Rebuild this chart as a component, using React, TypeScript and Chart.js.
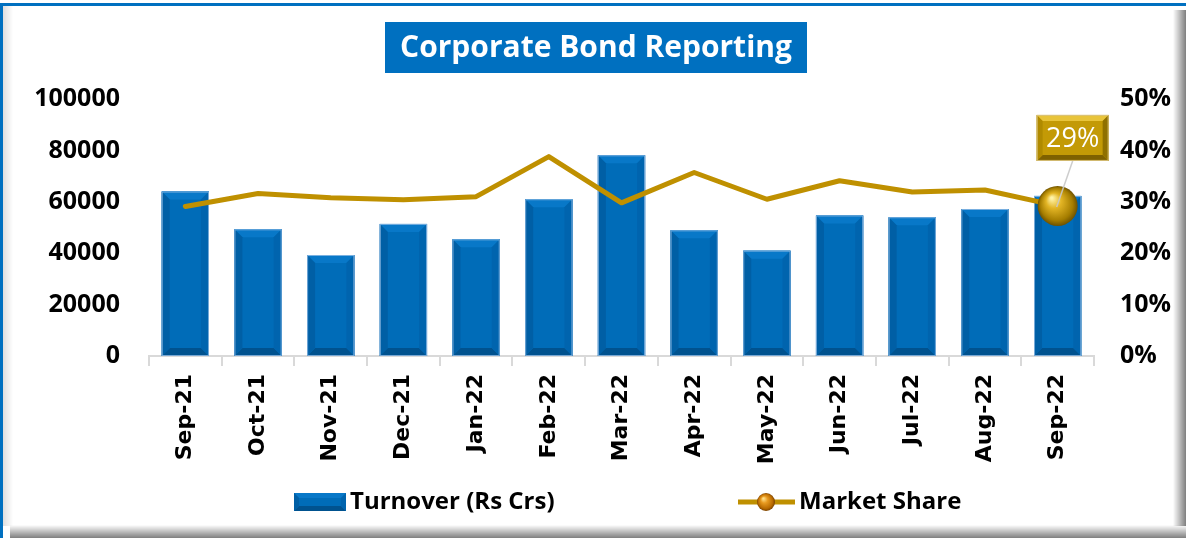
import React, { useEffect, useRef } from "react";
import { Chart, registerables } from "chart.js";

Chart.register(...registerables);

const title = "Corporate Bond Reporting";
const categories = ["Sep-21", "Oct-21", "Nov-21", "Dec-21", "Jan-22", "Feb-22", "Mar-22", "Apr-22", "May-22", "Jun-22", "Jul-22", "Aug-22", "Sep-22"];
const turnover = [64000, 49300, 39300, 51400, 45400, 61000, 78100, 48900, 41000, 54700, 54000, 57200, 62300];
const marketShare = [29.1, 31.6, 30.8, 30.4, 31.0, 38.8, 29.8, 35.7, 30.5, 34.1, 31.9, 32.3, 29.2];
const leftTicks = [0, 20000, 40000, 60000, 80000, 100000];
const rightTicks = [0, 10, 20, 30, 40, 50];
const seriesNames = ["Turnover (Rs Crs)", "Market Share"];

const BLUE = "#006CB8";
const GOLD = "#BF9000";

function bevelRect(ctx: CanvasRenderingContext2D, l: number, t: number, r: number, b: number, bv: number, face: string, top: string, bottom: string, left: string, right: string) {
  ctx.fillStyle = face;
  ctx.fillRect(l, t, r - l, b - t);
  const poly = (pts: number[][], c: string) => {
    ctx.beginPath();
    ctx.moveTo(pts[0][0], pts[0][1]);
    for (let i = 1; i < pts.length; i++) ctx.lineTo(pts[i][0], pts[i][1]);
    ctx.closePath();
    ctx.fillStyle = c;
    ctx.fill();
  };
  poly([[l, t], [r, t], [r - bv, t + bv], [l + bv, t + bv]], top);
  poly([[l, b], [r, b], [r - bv, b - bv], [l + bv, b - bv]], bottom);
  poly([[l, t], [l + bv, t + bv], [l + bv, b - bv], [l, b]], left);
  poly([[r, t], [r - bv, t + bv], [r - bv, b - bv], [r, b]], right);
}

function sphere(ctx: CanvasRenderingContext2D, x: number, y: number, r: number, c0: string, c1: string, c2: string, c3: string) {
  const g = ctx.createRadialGradient(x - r * 0.3, y - r * 0.4, r * 0.05, x, y, r);
  g.addColorStop(0, c0);
  g.addColorStop(0.35, c1);
  g.addColorStop(0.8, c2);
  g.addColorStop(1, c3);
  ctx.beginPath();
  ctx.arc(x, y, r, 0, Math.PI * 2);
  ctx.fillStyle = g;
  ctx.fill();
}

const decorPlugin = {
  id: "decor",
  afterDatasetDraw(chart: any, args: any) {
    const meta = args.meta;
    if (meta.type !== "bar") return;
    const ctx = chart.ctx as CanvasRenderingContext2D;
    ctx.save();
    meta.data.forEach((el: any) => {
      const p = el.getProps(["x", "y", "base", "width"], true);
      const l = p.x - p.width / 2;
      const r = p.x + p.width / 2;
      bevelRect(ctx, l, p.y, r, p.base, 8, BLUE, "#0878C8", "#00528F", "#005FA5", "#0064AE");
      ctx.strokeStyle = "rgba(150,190,230,0.8)";
      ctx.lineWidth = 1;
      ctx.strokeRect(l + 0.5, p.y + 0.5, p.width - 1, p.base - p.y - 1);
    });
    ctx.restore();
  },
  afterDatasetsDraw(chart: any) {
    const ctx = chart.ctx as CanvasRenderingContext2D;
    const lineMeta = chart.getDatasetMeta(1);
    const last = lineMeta.data[lineMeta.data.length - 1];
    const px = last.x;
    const py = last.y;
    ctx.save();
    const bx = px + 15, by = py - 68, bw = 72, bh = 46;
    sphere(ctx, px, py, 20, "#FFF3A8", "#E2B424", "#A57D00", "#6E5200");
    ctx.beginPath();
    ctx.moveTo(px - 1, py + 1);
    ctx.lineTo(bx, by + bh / 2);
    ctx.strokeStyle = "rgba(200,200,200,0.9)";
    ctx.lineWidth = 1.5;
    ctx.stroke();
    bevelRect(ctx, bx - bw / 2, by - bh / 2, bx + bw / 2, by + bh / 2, 6, "#C39A06", "#E8C43A", "#7E6100", "#B08A00", "#8F7000");
    ctx.strokeStyle = "#D9C27A";
    ctx.lineWidth = 1;
    ctx.strokeRect(bx - bw / 2 + 0.5, by - bh / 2 + 0.5, bw - 1, bh - 1);
    ctx.fillStyle = "#FFFFFF";
    ctx.font = "27px 'Open Sans'";
    ctx.textAlign = "center";
    ctx.textBaseline = "middle";
    ctx.fillText(Math.round(marketShare[marketShare.length - 1]) + "%", bx, by + 1);
    ctx.restore();
  },
  afterDraw(chart: any) {
    const ctx = chart.ctx as CanvasRenderingContext2D;
    ctx.save();
    ctx.fillStyle = "#0070C0";
    ctx.fillRect(385, 22, 422, 51);
    ctx.fillStyle = "#FFFFFF";
    ctx.font = "bold 30px 'Open Sans'";
    ctx.textAlign = "center";
    ctx.textBaseline = "middle";
    ctx.fillText(title, 596, 48);
    bevelRect(ctx, 294, 493, 346, 511, 5, BLUE, "#0878C8", "#00528F", "#005FA5", "#0064AE");
    ctx.fillStyle = "#000";
    ctx.font = "bold 24px 'Open Sans'";
    ctx.textAlign = "left";
    ctx.fillText(seriesNames[0], 350, 502);
    ctx.strokeStyle = GOLD;
    ctx.lineWidth = 5;
    ctx.beginPath();
    ctx.moveTo(738, 502);
    ctx.lineTo(795, 502);
    ctx.stroke();
    sphere(ctx, 766, 502, 9, "#FFE08A", "#E89A20", "#B86A00", "#7A4200");
    ctx.fillStyle = "#000";
    ctx.fillText(seriesNames[1], 799, 502);
    ctx.restore();
  },
};

export default function App() {
  const ref = useRef<HTMLCanvasElement>(null);
  useEffect(() => {
    const chart = new Chart(ref.current as HTMLCanvasElement, {
      type: "bar",
      data: {
        labels: categories,
        datasets: [
          {
            type: "bar",
            label: seriesNames[0],
            data: turnover,
            backgroundColor: BLUE,
            yAxisID: "y",
            barPercentage: 0.65,
            categoryPercentage: 1,
            order: 2,
          } as any,
          {
            type: "line",
            label: seriesNames[1],
            data: marketShare,
            borderColor: GOLD,
            borderWidth: 5,
            pointRadius: 0,
            pointHoverRadius: 0,
            tension: 0,
            borderCapStyle: "round",
            borderJoinStyle: "round",
            yAxisID: "y1",
            order: 1,
          } as any,
        ],
      },
      options: {
        responsive: false,
        maintainAspectRatio: false,
        animation: false,
        events: [],
        layout: { padding: { top: 99, left: 0, right: 0, bottom: 0 } },
        plugins: { legend: { display: false }, tooltip: { enabled: false }, title: { display: false } },
        scales: {
          x: {
            offset: true,
            grid: { display: true, drawOnChartArea: false, drawTicks: true, tickLength: 10, color: "#D9D9D9", lineWidth: 2, offset: true },
            border: { display: true, color: "#D9D9D9", width: 2 },
            ticks: {
              minRotation: 90,
              maxRotation: 90,
              autoSkip: false,
              padding: 8,
              color: "#000",
              font: { family: "'DejaVu Sans'", weight: "bold", size: 22 },
            },
            afterFit: (s: any) => {
              s.height = 182;
            },
          },
          y: {
            position: "left",
            min: 0,
            max: 100000,
            grid: { display: false, drawTicks: false },
            border: { display: false },
            afterBuildTicks: (s: any) => {
              s.ticks = leftTicks.map((v) => ({ value: v }));
            },
            ticks: {
              padding: 29,
              color: "#000",
              font: { family: "'Open Sans'", weight: "bold", size: 25 },
              callback: (v: any) => String(v),
            },
            afterFit: (s: any) => {
              s.width = 149;
            },
          },
          y1: {
            position: "right",
            min: 0,
            max: 50,
            grid: { display: false, drawTicks: false },
            border: { display: false },
            afterBuildTicks: (s: any) => {
              s.ticks = rightTicks.map((v) => ({ value: v }));
            },
            ticks: {
              padding: 26,
              color: "#000",
              font: { family: "'Open Sans'", weight: "bold", size: 25 },
              callback: (v: any) => v + "%",
            },
            afterFit: (s: any) => {
              s.width = 92;
            },
          },
        },
      } as any,
      plugins: [decorPlugin as any],
    });
    return () => chart.destroy();
  }, []);

  return (
    <div style={{ position: "fixed", left: 0, top: 0, width: 1186, height: 538, background: "#fff", overflow: "hidden" }}>
      <canvas ref={ref} width={1186} height={538} style={{ position: "absolute", left: 0, top: 0, width: 1186, height: 538 }} />
      <div style={{ position: "absolute", left: 3, top: 6, width: 10, height: 520, background: "linear-gradient(to right, rgba(0,0,0,0.13), rgba(0,0,0,0))", pointerEvents: "none" }} />
      <div style={{ position: "absolute", left: 1173, top: 10, width: 13, height: 516, background: "linear-gradient(to right, rgba(0,0,0,0), rgba(0,0,0,0.5))", pointerEvents: "none" }} />
      <div style={{ position: "absolute", left: 10, top: 525, width: 1176, height: 13, background: "linear-gradient(to bottom, rgba(0,0,0,0), rgba(0,0,0,0.5))", pointerEvents: "none" }} />
      <div style={{ position: "absolute", left: 0, top: 3, width: 1186, height: 3, background: "#0070C0", pointerEvents: "none" }} />
      <div style={{ position: "absolute", left: 0, top: 3, width: 3, height: 535, background: "#0070C0", pointerEvents: "none" }} />
    </div>
  );
}
